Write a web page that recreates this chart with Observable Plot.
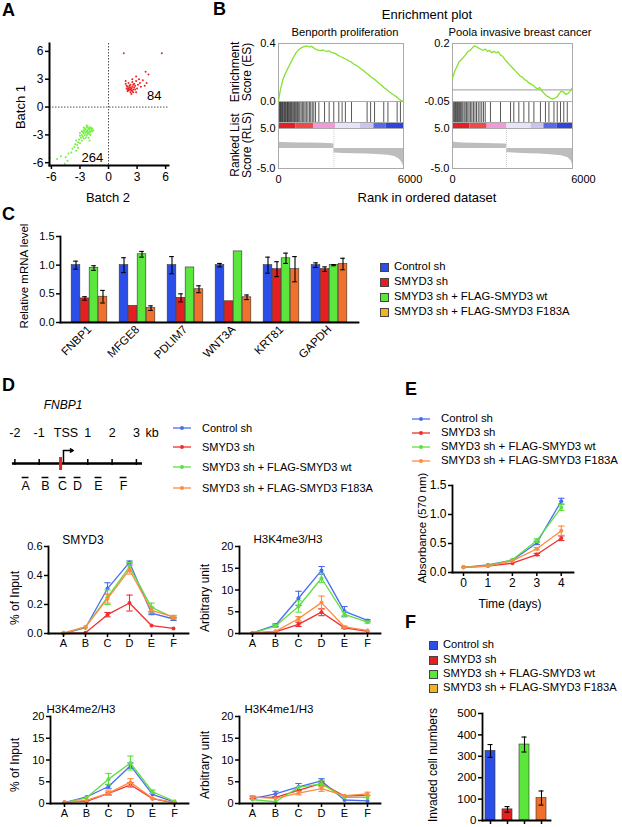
<!DOCTYPE html>
<html><head><meta charset="utf-8">
<script src="https://cdn.jsdelivr.net/npm/d3@7"></script>
<script src="https://cdn.jsdelivr.net/npm/@observablehq/plot@0.6"></script>
<style>
html,body{margin:0;padding:0;background:#fff;}
#root{position:relative;width:622px;height:827px;overflow:hidden;font-family:"Liberation Sans",Arial,Helvetica,sans-serif;color:#000;background:#fff;}
.t{position:absolute;white-space:nowrap;line-height:1;}
</style></head>
<body><div id="root"></div>
<script>
// ================= DATA =================
// Panel A: scatter (Batch 2 = x, Batch 1 = y)
const batchRed = [[1.6,5.8],[5.6,5.8],[3.9,3.8],[4.2,3.5],[3.2,3.0],[3.6,2.9],[2.9,2.8],[2.5,2.7],[2.1,2.6],[1.8,2.5],[2.7,2.5],[3.1,2.4],[3.4,2.2],[3.8,2.3],[2.4,1.4],[2.9,1.6],[2.0,1.7],[1.9,2.0],[2.2,2.1],[2.3,1.9],[2.1,1.8],[2.4,2.0],[2.6,1.9],[2.2,2.3],[2.0,2.2],[2.5,2.2],[2.3,2.4],[2.7,2.1],[2.8,1.9],[2.6,2.4],[2.1,2.0],[2.3,2.1],[2.4,1.8],[2.2,1.9],[2.5,1.7],[2.0,1.9],[1.9,2.3],[2.8,2.3],[3.0,2.0],[2.6,1.6],[2.3,1.6],[3.3,2.6],[4.0,2.6],[2.9,3.3],[2.5,3.0],[1.8,2.8]];
const batchGreen = [[-1.9,-2.2],[-2.0,-2.4],[-2.1,-2.3],[-2.2,-2.5],[-2.0,-2.6],[-1.8,-2.5],[-2.3,-2.2],[-2.4,-2.4],[-2.2,-2.7],[-2.1,-2.8],[-1.9,-2.7],[-2.3,-2.6],[-2.5,-2.6],[-2.0,-2.2],[-1.8,-2.3],[-2.4,-2.8],[-2.6,-2.8],[-2.2,-2.9],[-2.0,-2.9],[-1.7,-2.6],[-2.5,-2.3],[-2.6,-2.5],[-2.7,-2.7],[-2.8,-3.0],[-2.5,-3.0],[-2.3,-3.1],[-2.7,-3.2],[-2.9,-3.3],[-3.0,-3.1],[-2.6,-3.4],[-3.1,-3.5],[-2.8,-3.6],[-3.2,-3.8],[-3.4,-3.6],[-3.0,-3.9],[-3.3,-4.1],[-3.5,-4.0],[-3.2,-4.4],[-3.6,-4.3],[-3.8,-4.5],[-3.4,-4.7],[-3.9,-4.9],[-4.2,-5.0],[-4.5,-5.4],[-4.3,-5.8],[-4.6,-6.1],[-5.0,-5.3],[-5.4,-5.6],[-6.2,-5.5],[-2.1,-3.3],[-1.9,-3.0],[-2.4,-3.3],[-2.0,-3.6],[-2.3,-2.0],[-2.6,-2.2],[-1.7,-2.3],[-2.8,-2.6],[-3.0,-2.8],[-1.6,-2.5],[-2.2,-2.1]];
const batchCounts = [{x:4.8,y:1.2,n:"84"},{x:-1.7,y:-5.5,n:"264"}];
const batchTicks = [-6,-3,0,3,6];

// Panel B: GSEA enrichment
const esBenporth = [[0,0],[50,0.05],[100,0.09],[150,0.12],[200,0.15],[300,0.19],[400,0.22],[500,0.25],[600,0.28],[700,0.31],[800,0.335],[900,0.355],[1000,0.365],[1100,0.375],[1200,0.38],[1300,0.383],[1400,0.376],[1500,0.38],[1600,0.37],[1700,0.36],[1800,0.355],[1900,0.35],[2000,0.356],[2100,0.35],[2200,0.345],[2300,0.35],[2400,0.34],[2500,0.336],[2600,0.33],[2700,0.32],[2800,0.312],[2900,0.305],[3000,0.298],[3100,0.29],[3200,0.28],[3300,0.274],[3400,0.262],[3500,0.252],[3600,0.245],[3700,0.232],[3800,0.22],[3900,0.21],[4000,0.196],[4100,0.186],[4200,0.171],[4300,0.161],[4400,0.15],[4500,0.136],[4600,0.122],[4700,0.112],[4800,0.097],[4900,0.086],[5000,0.072],[5100,0.062],[5200,0.05],[5300,0.041],[5400,0.03],[5500,0.016],[5600,0.006],[5680,0]];
const esPoola = [[0,0.05],[100,0.08],[200,0.1],[300,0.12],[400,0.13],[500,0.14],[600,0.152],[700,0.165],[800,0.17],[900,0.18],[1000,0.19],[1100,0.186],[1200,0.18],[1300,0.175],[1400,0.17],[1500,0.176],[1600,0.166],[1700,0.17],[1800,0.16],[1900,0.166],[2000,0.16],[2100,0.164],[2200,0.15],[2300,0.145],[2400,0.132],[2500,0.12],[2600,0.11],[2700,0.1],[2800,0.09],[2900,0.08],[3000,0.07],[3100,0.06],[3200,0.055],[3300,0.045],[3400,0.04],[3500,0.03],[3600,0.025],[3700,0.02],[3800,0.01],[3900,0.005],[4000,0.01],[4100,-0.005],[4200,-0.015],[4300,-0.025],[4400,-0.03],[4500,-0.036],[4600,-0.04],[4700,-0.035],[4800,-0.03],[4900,-0.015],[5000,-0.005],[5100,-0.01],[5200,-0.02],[5300,-0.015],[5400,-0.004],[5460,0.005]];
const hitsBenporth = [30,60,90,120,150,180,210,250,280,310,340,380,410,440,470,510,550,590,630,680,730,780,830,870,920,970,1030,1090,1150,1210,1270,1340,1410,1470,1540,1610,1690,1840,2100,2310,2520,2750,2900,3050,3330,4040,4200,4380,4800,4990,5410,5560];
const hitsPoola = [20,60,100,140,180,230,270,320,370,420,470,530,580,640,700,760,830,890,960,1030,1100,1180,1260,1340,1420,1500,1740,2200,2660,2810,3040,3270,3500,3730,4030,4260,4420,4650,4800,4950,5100,5260];
const barBenporth = [[0,800,"#e42024"],[800,1610,"#ef4a4a"],[1610,2600,"#f09ad8"],[2600,3740,"#e8e4f8"],[3740,4350,"#cbc4ef"],[4350,4900,"#5869e6"],[4900,5700,"#2f44dc"]];
const barPoola = [[0,800,"#e42024"],[800,1590,"#ef4a4a"],[1590,2500,"#f09ad8"],[2500,3600,"#e8e4f8"],[3600,4190,"#cbc4ef"],[4190,4800,"#5869e6"],[4800,5500,"#2f44dc"]];
const rlsBenporth = [[0,1.6],[150,1.5],[500,1.45],[1000,1.4],[1500,1.35],[2000,1.3],[2500,1.2],[2520,1.1],[2530,-1.1],[3000,-1.25],[3500,-1.3],[4000,-1.4],[4500,-1.5],[5000,-1.7],[5300,-2.0],[5500,-2.6],[5620,-3.4],[5700,-4.3]];
const rlsPoola = [[0,1.7],[150,1.5],[500,1.4],[1000,1.3],[1500,1.25],[2000,1.2],[2470,1.1],[2480,-1.0],[3000,-1.2],[3500,-1.3],[4000,-1.4],[4500,-1.55],[5000,-1.8],[5300,-2.3],[5450,-3.2],[5500,-4.0]];
const crossBenporth = 2525, crossPoola = 2475;

// Panel C: relative mRNA level
const genes = ["FNBP1","MFGE8","PDLIM7","WNT3A","KRT81","GAPDH"];
const groups = ["Control sh","SMYD3 sh","SMYD3 sh + FLAG-SMYD3 wt","SMYD3 sh + FLAG-SMYD3 F183A"];
const mrnaControl = [1.00,1.00,1.00,1.00,1.00,1.00];
const mrnaControlErr = [0.07,0.13,0.15,0.03,0.14,0.04];
const mrnaSmyd3 = [0.42,0.29,0.43,0.37,0.93,0.93];
const mrnaSmyd3Err = [0.03,0.00,0.07,0.00,0.13,0.04];
const mrnaWt = [0.95,1.19,0.96,1.24,1.12,1.00];
const mrnaWtErr = [0.04,0.05,0.00,0.00,0.09,0.01];
const mrnaF183A = [0.45,0.25,0.58,0.44,0.93,1.02];
const mrnaF183AErr = [0.11,0.04,0.06,0.04,0.22,0.10];

// Panel D: gene diagram + ChIP
const kbTicks = [-2,-1,0,1,2,3];
const kbLabels = [{kb:-2,t:"-2"},{kb:-1,t:"-1"},{kb:0.1,t:"TSS"},{kb:1,t:"1"},{kb:2,t:"2"},{kb:3,t:"3"},{kb:3.65,t:"kb"}];
const geneSpan = [-2.1,3.25];
const motifKb = -0.12;
const primers = [{name:"A",kb:-1.56},{name:"B",kb:-0.74},{name:"C",kb:-0.04},{name:"D",kb:0.58},{name:"E",kb:1.44},{name:"F",kb:2.47}];
const regions = ["A","B","C","D","E","F"];
const smyd3Control = [0.0,0.04,0.31,0.49,0.14,0.10], smyd3ControlErr = [0,0,0.04,0.01,0.01,0.01];
const smyd3Sh = [0.0,0.005,0.13,0.21,0.055,0.035], smyd3ShErr = [0,0,0.015,0.055,0,0];
const smyd3Wt = [0.0,0.045,0.25,0.46,0.18,0.11], smyd3WtErr = [0,0,0.05,0.03,0.03,0.01];
const smyd3F183A = [0.005,0.045,0.24,0.44,0.16,0.115], smyd3F183AErr = [0,0,0.03,0.03,0.02,0.01];
const me3Control = [0.1,1.9,8.1,14.5,5.1,3.0], me3ControlErr = [0,0.3,1.6,0.9,1.1,0.2];
const me3Sh = [0.1,0.4,2.1,4.9,1.3,0.5], me3ShErr = [0,0,0.5,0.8,0.2,0];
const me3Wt = [0.1,1.7,6.2,12.7,4.4,2.6], me3WtErr = [0,0.3,1.3,1.0,0.6,0.2];
const me3F183A = [0.1,0.5,3.4,7.1,1.5,0.7], me3F183AErr = [0,0,0.5,1.5,0.2,0];
const me2Control = [0.2,1.5,3.9,8.7,2.1,0.3], me2ControlErr = [0,0,0.5,0.6,0,0];
const me2Sh = [0.3,0.5,2.3,4.3,1.1,0.1], me2ShErr = [0,0,0.3,0.5,0,0];
const me2Wt = [0.2,1.3,5.6,9.3,2.7,0.5], me2WtErr = [0,0,1.3,1.6,0.4,0];
const me2F183A = [0.3,0.7,2.4,4.9,1.2,0.2], me2F183AErr = [0,0,0.5,0.8,0,0];
const me1Control = [1.1,2.2,3.8,5.2,0.8,0.6], me1ControlErr = [0,0.6,0.8,0.5,0,0];
const me1Sh = [1.4,1.4,3.0,4.6,1.7,1.9], me1ShErr = [0.3,0,0,0.5,0,0];
const me1Wt = [0.9,0.4,3.7,4.5,1.4,1.4], me1WtErr = [0,0,0,0.7,0,0];
const me1F183A = [1.5,1.2,2.4,3.4,1.8,2.2], me1F183AErr = [0,0,0.4,0.6,0,0.4];

// Panel E: growth curve
const days = [0,1,2,3,4];
const absControl = [0.09,0.13,0.21,0.51,1.23], absControlErr = [0,0,0,0.03,0.05];
const absSh = [0.09,0.11,0.16,0.31,0.59], absShErr = [0,0,0,0.02,0.04];
const absWt = [0.09,0.12,0.22,0.55,1.12], absWtErr = [0,0,0,0.03,0.05];
const absF183A = [0.09,0.11,0.20,0.41,0.72], absF183AErr = [0,0,0,0.02,0.08];

// Panel F: invasion
const invaded = [325,52,355,105];
const invadedErr = [30,13,35,33];
const invadedTicks = [0,100,200,300,400,500];

// ================= STYLE =================
const barColors = ["#2b4ee6","#e61e1e","#5ae63a","#f0702c"];
const swatchColors = ["#2b4ee6","#e61e1e","#5ae63a","#f4b320"];
const lineColors = ["#4a6cf2","#ee3030","#5ee040","#ff8a40"];
const esColor = "#86e02e";
const FONT = '"Liberation Sans", Arial, Helvetica, sans-serif';

// ================= HELPERS =================
const root = document.getElementById("root");
function place(el, left, top) {
  el.style.position = "absolute";
  el.style.left = left + "px";
  el.style.top = top + "px";
  root.appendChild(el);
}
function mk(box, m, fs, spec) {
  const [x0, y0, x1, y1] = box;
  const [mt, mr, mb, ml] = m;
  spec.marks = spec.marks.filter(Boolean);
  const svg = Plot.plot(Object.assign({
    width: x1 - x0 + ml + mr,
    height: y1 - y0 + mt + mb,
    marginTop: mt, marginRight: mr, marginBottom: mb, marginLeft: ml,
    style: {fontFamily: FONT, fontSize: fs + "px", background: "none", overflow: "visible", color: "#000"}
  }, spec));
  place(svg, x0 - ml, y0 - mt);
  return svg;
}
function txt(s, x, y, o = {}) {
  const d = document.createElement("div");
  d.className = "t";
  d.textContent = s;
  d.style.left = x + "px";
  d.style.top = y + "px";
  d.style.fontSize = (o.size || 12) + "px";
  if (o.bold) d.style.fontWeight = "bold";
  if (o.italic) d.style.fontStyle = "italic";
  const ax = o.anchor === "start" ? "0" : o.anchor === "end" ? "-100%" : "-50%";
  d.style.transform = `translate(${ax},-50%)` + (o.rotate ? ` rotate(${o.rotate}deg)` : "");
  root.appendChild(d);
}
const capSymbol = {draw(ctx, size) { const w = Math.sqrt(size) * 0.9; ctx.moveTo(-w, 0); ctx.lineTo(w, 0); }};
function squareLegend(x, ys, colors, labels, size) {
  labels.forEach((l, i) => {
    const sw = document.createElement("div");
    sw.style.cssText = `position:absolute;left:${x}px;top:${ys[i]-4.5}px;width:9px;height:9px;background:${colors[i]};border:1px solid #444;box-sizing:border-box;`;
    root.appendChild(sw);
    txt(l, x + 14, ys[i], {anchor: "start", size});
  });
}
function lineLegend(x, ys, colors, labels, size, textX) {
  labels.forEach((l, i) => {
    const s = document.createElementNS("http://www.w3.org/2000/svg", "svg");
    s.setAttribute("width", 20); s.setAttribute("height", 8);
    s.style.cssText = `position:absolute;left:${x}px;top:${ys[i]-4}px;overflow:visible`;
    s.innerHTML = `<line x1="0" y1="4" x2="18" y2="4" stroke="${colors[i]}" stroke-width="1.3"/><circle cx="9" cy="4" r="2" fill="${colors[i]}"/>`;
    root.appendChild(s);
    txt(l, textX, ys[i], {anchor: "start", size});
  });
}

// ================= PANEL LABELS =================
txt("A", 2, 10, {anchor:"start", size:18, bold:true});
txt("B", 213, 9, {anchor:"start", size:18, bold:true});
txt("C", 2, 214, {anchor:"start", size:18, bold:true});
txt("D", 2, 385, {anchor:"start", size:18, bold:true});
txt("E", 405, 389, {anchor:"start", size:18, bold:true});
txt("F", 405, 622, {anchor:"start", size:18, bold:true});

// ================= PANEL A =================
mk([49,43,168,165],[4,6,24,26],12,{
  x:{domain:[-6.2,6.3]}, y:{domain:[-6.3,6.85]},
  marks:[
    Plot.ruleX([0],{stroke:"#222",strokeWidth:0.8,strokeDasharray:"1.5,1.5"}),
    Plot.ruleY([0],{stroke:"#222",strokeWidth:0.8,strokeDasharray:"1.5,1.5"}),
    Plot.dot(batchGreen,{x:d=>d[0],y:d=>d[1],r:1,fill:"#6ef03c"}),
    Plot.dot(batchRed,{x:d=>d[0],y:d=>d[1],r:1,fill:"#ee2020"}),
    Plot.text(batchCounts,{x:"x",y:"y",text:"n",fontSize:13}),
    Plot.axisX({ticks:batchTicks,tickSize:4,tickPadding:3,strokeWidth:1.5,tickFormat:d=>String(d),label:null}),
    Plot.axisY({ticks:batchTicks,tickSize:4,tickPadding:2,strokeWidth:1.5,tickFormat:d=>String(d),label:null}),
    Plot.frame({anchor:"left",strokeWidth:2}),
    Plot.frame({anchor:"bottom",strokeWidth:2})
  ]});
txt("Batch 2", 108, 197, {size:13});
txt("Batch 1", 20, 107, {size:13, rotate:-90});

// ================= PANEL B =================
function gsea(x0, x1, xMax, es, esDomain, esTicks, esFmt, zero, hits, segs, rls, cross) {
  mk([x0,43,x1,101],[2,2,0,30],11,{
    x:{domain:[0,xMax],axis:null}, y:{domain:esDomain},
    marks:[
      Plot.frame({stroke:"#aaa"}),
      zero ? Plot.ruleY([0],{stroke:"#999"}) : null,
      Plot.line(es,{x:d=>d[0],y:d=>d[1],stroke:esColor,strokeWidth:1.3}),
      Plot.axisY({ticks:esTicks,tickFormat:esFmt,tickSize:0,tickPadding:3,label:null})
    ]});
  mk([x0,101,x1,122],[0,0,0,0],11,{
    x:{domain:[0,xMax],axis:null},
    marks:[
      Plot.ruleX(hits,{stroke:"#222",strokeOpacity:0.75,strokeWidth:1}),
      Plot.frame({stroke:"#aaa"})
    ]});
  mk([x0,122,x1,128],[0,0,0,0],11,{
    x:{domain:[0,xMax],axis:null}, color:{type:"identity"},
    marks:[
      Plot.barX(segs,{x1:d=>d[0],x2:d=>d[1],fill:d=>d[2]}),
      Plot.frame({stroke:"#aaa"})
    ]});
  mk([x0,128,x1,168],[0,2,24,30],11,{
    x:{domain:[0,xMax]}, y:{domain:[-5,5]},
    marks:[
      Plot.areaY(rls,{x:d=>d[0],y:d=>d[1],fill:"#bdbdbd"}),
      Plot.ruleX([cross],{stroke:"#ccc",strokeDasharray:"1,1"}),
      Plot.frame({stroke:"#aaa"}),
      Plot.axisY({ticks:[5,-5],tickFormat:d=>d.toFixed(1),tickSize:0,tickPadding:3,label:null}),
      Plot.axisX({ticks:[0,6000],tickSize:0,tickPadding:7,tickFormat:d=>String(d),label:null})
    ]});
}
gsea(278,403,5700,esBenporth,[0,0.4],[0,0.4],d=>d.toFixed(1),false,hitsBenporth,barBenporth,rlsBenporth,crossBenporth);
gsea(452,572,5500,esPoola,[-0.05,0.2],[-0.05,0.2],d=>String(d),true,hitsPoola,barPoola,rlsPoola,crossPoola);
txt("Enrichment plot", 427, 14, {size:13});
txt("Benporth proliferation", 345, 33, {size:11.2});
txt("Poola invasive breast cancer", 520, 33, {size:11.2});
txt("Enrichment", 235, 72, {size:12, rotate:-90});
txt("Score (ES)", 247, 72, {size:12, rotate:-90});
txt("Ranked List", 235, 145, {size:12, rotate:-90});
txt("Score (RLS)", 247, 145, {size:12, rotate:-90});
txt("Rank in ordered dataset", 427, 197, {size:13});

// ================= PANEL C =================
{
  const means = [mrnaControl, mrnaSmyd3, mrnaWt, mrnaF183A];
  const errs = [mrnaControlErr, mrnaSmyd3Err, mrnaWtErr, mrnaF183AErr];
  const box = [60,236,358,322];
  const po = 0.08;
  const bw = (box[2]-box[0]) / (genes.length + 2*po);
  const barW = 9, capW = 5;
  const marks = [];
  groups.forEach((g, j) => {
    const rows = genes.map((gene, i) => ({gene, v: means[j][i], e: errs[j][i]}));
    const dx = (j - 1.5) * barW;
    const ins = (bw - barW) / 2, cins = (bw - capW) / 2;
    marks.push(Plot.barY(rows,{x:"gene",y:"v",fill:barColors[j],stroke:"#333",strokeWidth:0.6,insetLeft:ins,insetRight:ins,dx}));
    const er = rows.filter(d => d.e > 0);
    marks.push(Plot.ruleX(er,{x:"gene",y1:d=>d.v-d.e,y2:d=>d.v+d.e,dx,strokeWidth:1.1}));
    marks.push(Plot.tickY(er,{x:"gene",y:d=>d.v+d.e,dx,insetLeft:cins,insetRight:cins,strokeWidth:1.1}));
    marks.push(Plot.tickY(er,{x:"gene",y:d=>d.v-d.e,dx,insetLeft:cins,insetRight:cins,strokeWidth:1.1}));
  });
  marks.push(Plot.axisY({ticks:[0,0.5,1,1.5],tickFormat:d=>d.toFixed(1),tickSize:4,tickPadding:2,strokeWidth:1.5,label:null}));
  marks.push(Plot.axisX({tickRotate:-45,tickSize:0,tickPadding:5,fontSize:11.5,label:null}));
  marks.push(Plot.frame({anchor:"left",strokeWidth:1.8}));
  marks.push(Plot.frame({anchor:"bottom",strokeWidth:1.8}));
  mk(box,[4,10,50,30],11,{
    x:{type:"band",domain:genes,paddingInner:0,paddingOuter:po},
    y:{domain:[0,1.5]},
    marks
  });
  txt("Relative mRNA level", 25, 276, {size:11.5, rotate:-90});
  squareLegend(380, [267,282,297,312], swatchColors, groups, 11.3);
}

// ================= PANEL D: diagram =================
txt("FNBP1", 63, 405, {size:12, italic:true});
mk([10,420,150,492],[0,6,0,6],12,{
  x:{domain:[-2.18,3.58],axis:null},
  y:{type:"band",domain:["kb","gene","primer"],padding:0,axis:null},
  marks:[
    Plot.text(kbLabels,{x:"kb",y:()=>"kb",text:"t",fontSize:12.5}),
    Plot.ruleY([geneSpan],{x1:d=>d[0],x2:d=>d[1],y:()=>"gene",dy:7,strokeWidth:2.5}),
    Plot.tickX(kbTicks.filter(k=>k!==0),{x:d=>d,y:()=>"gene",insetTop:15,insetBottom:3,strokeWidth:1.5}),
    Plot.tickX([0],{x:d=>d,y:()=>"gene",insetTop:6,insetBottom:5,strokeWidth:1.5}),
    Plot.arrow([0],{x1:d=>d,x2:d=>d+0.4,y1:()=>"gene",y2:()=>"gene",dy:-6,headLength:5,strokeWidth:1.5}),
    Plot.tickX([motifKb],{x:d=>d,y:()=>"gene",insetTop:13,insetBottom:-2,stroke:"#ee2222",strokeWidth:3}),
    Plot.ruleY(primers,{y:()=>"primer",x1:d=>d.kb-0.14,x2:d=>d.kb+0.14,dy:-3,strokeWidth:1.5}),
    Plot.text(primers,{x:"kb",y:()=>"primer",text:"name",dy:5,fontSize:12.5})
  ]});
lineLegend(173, [428,447,467,488], lineColors, groups, 11, 202);

// ================= PANEL D: ChIP charts =================
function lineChart(box, fs, xSpec, yDomain, yTicks, yFmt, xTicks, xFmt, cats, series) {
  const marks = [];
  series.forEach(([vals, errs], j) => {
    const rows = cats.map((c, i) => ({c, v: vals[i], e: errs[i]}));
    const er = rows.filter(d => d.e > 0);
    marks.push(Plot.line(rows,{x:"c",y:"v",stroke:lineColors[j],strokeWidth:1.3}));
    marks.push(Plot.ruleX(er,{x:"c",y1:d=>d.v-d.e,y2:d=>d.v+d.e,stroke:lineColors[j],strokeWidth:1.1}));
    marks.push(Plot.dot(er,{x:"c",y:d=>d.v+d.e,symbol:capSymbol,r:2,stroke:lineColors[j],strokeWidth:1.1,fill:"none"}));
    marks.push(Plot.dot(er,{x:"c",y:d=>d.v-d.e,symbol:capSymbol,r:2,stroke:lineColors[j],strokeWidth:1.1,fill:"none"}));
    marks.push(Plot.dot(rows,{x:"c",y:"v",r:2,fill:lineColors[j]}));
  });
  marks.push(Plot.axisY({ticks:yTicks,tickFormat:yFmt,tickSize:4,tickPadding:2,strokeWidth:1.5,label:null}));
  marks.push(Plot.axisX({ticks:xTicks,tickFormat:xFmt,tickSize:4,tickPadding:2,strokeWidth:1.5,label:null}));
  marks.push(Plot.frame({anchor:"left",strokeWidth:1.8}));
  marks.push(Plot.frame({anchor:"bottom",strokeWidth:1.8}));
  mk(box,[4,6,20,30],fs,{x:xSpec,y:{domain:yDomain},marks});
}
const ptX = {type:"point",domain:regions,padding:0.55};
lineChart([48,546,188,633],11,ptX,[0,0.6],[0,0.2,0.4,0.6],d=>d.toFixed(1),regions,d=>d,regions,
  [[smyd3Control,smyd3ControlErr],[smyd3Sh,smyd3ShErr],[smyd3Wt,smyd3WtErr],[smyd3F183A,smyd3F183AErr]]);
lineChart([239,546,380,633],11,ptX,[0,20],[0,5,10,15,20],d=>String(d),regions,d=>d,regions,
  [[me3Control,me3ControlErr],[me3Sh,me3ShErr],[me3Wt,me3WtErr],[me3F183A,me3F183AErr]]);
lineChart([50,716,188,803],11,ptX,[0,20],[0,5,10,15,20],d=>String(d),regions,d=>d,regions,
  [[me2Control,me2ControlErr],[me2Sh,me2ShErr],[me2Wt,me2WtErr],[me2F183A,me2F183AErr]]);
lineChart([239,716,380,803],11,ptX,[0,20],[0,5,10,15,20],d=>String(d),regions,d=>d,regions,
  [[me1Control,me1ControlErr],[me1Sh,me1ShErr],[me1Wt,me1WtErr],[me1F183A,me1F183AErr]]);
txt("SMYD3", 83, 540, {size:12});
txt("H3K4me3/H3", 288, 540, {size:11.5});
txt("H3K4me2/H3", 81, 710, {size:11.5});
txt("H3K4me1/H3", 279, 710, {size:11.5});
txt("% of Input", 15, 598, {size:12, rotate:-90});
txt("Arbitrary unit", 205, 598, {size:12, rotate:-90});
txt("% of Input", 15, 765, {size:12, rotate:-90});
txt("Arbitrary unit", 205, 765, {size:12, rotate:-90});

// ================= PANEL E =================
lineLegend(412, [419,433,447,461], lineColors, groups, 11.4, 441);
lineChart([452,485,573,572],12,{domain:[-0.45,4.5]},[0,1.5],[0,0.5,1,1.5],d=>d.toFixed(1),days,d=>String(d),days,
  [[absControl,absControlErr],[absSh,absShErr],[absWt,absWtErr],[absF183A,absF183AErr]]);
txt("Absorbance (570 nm)", 423, 528, {size:11.5, rotate:-90});
txt("Time (days)", 510, 604, {size:12});

// ================= PANEL F =================
txt("Invaded cell numbers", 433, 765, {size:12, rotate:-90});
squareLegend(429, [645,660,674,688], swatchColors, groups, 11.2);
{
  const marks = [];
  groups.forEach((g, j) => {
    const row = [{g, v: invaded[j], e: invadedErr[j]}];
    marks.push(Plot.barY(row,{x:"g",y:"v",fill:barColors[j],stroke:"#333",strokeWidth:0.6}));
    marks.push(Plot.ruleX(row,{x:"g",y1:d=>d.v-d.e,y2:d=>d.v+d.e,strokeWidth:1.1}));
    marks.push(Plot.tickY(row,{x:"g",y:d=>d.v+d.e,insetLeft:2.5,insetRight:2.5,strokeWidth:1.1}));
    marks.push(Plot.tickY(row,{x:"g",y:d=>d.v-d.e,insetLeft:2.5,insetRight:2.5,strokeWidth:1.1}));
  });
  marks.push(Plot.axisX({tickSize:4,strokeWidth:1.5,fill:"none",label:null}));
  marks.push(Plot.frame({anchor:"left",strokeWidth:1.8}));
  marks.push(Plot.frame({anchor:"bottom",strokeWidth:1.8}));
  mk([482,713,550,820],[4,4,6,4],11,{
    x:{type:"band",domain:groups,paddingInner:0.4,paddingOuter:0.165},
    y:{domain:[0,500],axis:null},
    marks
  });
  // separate y-axis plot sharing the same y domain and pixel range
  mk([482,713,484,820],[4,0,6,36],11.5,{
    y:{domain:[0,500]},
    marks:[
      Plot.axisY({ticks:invadedTicks,tickSize:4,tickPadding:2,strokeWidth:1.5,tickFormat:d=>String(d),label:null})
    ]
  });
}
</script></body></html>
